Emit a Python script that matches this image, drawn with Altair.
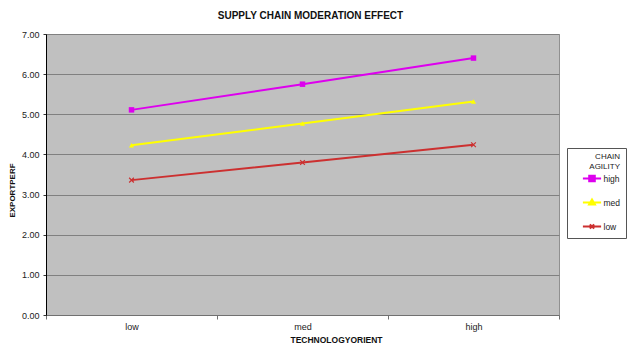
import altair as alt
import pandas as pd

# ---- data ----
x_levels = ["low", "med", "high"]
series_names = ["high", "med", "low"]
high_vals = [5.11, 5.75, 6.40]
med_vals = [4.23, 4.77, 5.32]
low_vals = [3.36, 3.80, 4.24]
y_ticks = [0, 1, 2, 3, 4, 5, 6, 7]
series_colors = ["#DD00EE", "#FFFF00", "#CC3030"]
line_widths = [2, 2, 1.2]
legend_title = ["CHAIN\u00a0\u00a0\u00a0", "AGILITY"]
legend_paths = [
    "M-1.3,0H1.3M-0.4,-0.4H0.4V0.4H-0.4ZM-0.2,-0.2H0.2V0.2H-0.2Z",
    "M-1.3,0H1.3M0,-0.42L0.42,0.3H-0.42ZM0,-0.15L0.18,0.16H-0.18Z",
    "M-1.3,0H1.3M-0.3,-0.3L0.3,0.3M-0.3,0.3L0.3,-0.3",
]
x_marker_path = "M-1,-1L1,1M-1,1L1,-1"

rows = []
for s, vals in zip(series_names, [high_vals, med_vals, low_vals]):
    for x, v in zip(x_levels, vals):
        rows.append({"TECHNOLOGYORIENT": x, "EXPORTPERF": v, "AGILITY": s})
df = pd.DataFrame(rows)

FONT = "Liberation Sans"
color_scale = alt.Scale(domain=series_names, range=series_colors)

x_enc = alt.X(
    "TECHNOLOGYORIENT:N",
    sort=x_levels,
    bandPosition=0.5,
    scale=alt.Scale(type="band", paddingInner=0, paddingOuter=0),
    axis=alt.Axis(
        title="TECHNOLOGYORIENT",
        tickBand="extent",
        labelAngle=0,
        grid=False,
        domainColor="#707070",
        tickColor="#707070",
        tickSize=4,
        labelPadding=3,
        labelFont=FONT,
        labelFontSize=9,
        labelColor="#222222",
        titleFont=FONT,
        titleFontSize=8.5,
        titleFontWeight="bold",
        titleColor="#111111",
        titleX=290,
        titleY=24.5,
        titleBaseline="middle",
    ),
)
y_enc = alt.Y(
    "EXPORTPERF:Q",
    scale=alt.Scale(domain=[0, 7], nice=False),
    axis=alt.Axis(
        title="EXPORTPERF",
        values=y_ticks,
        format=".2f",
        grid=True,
        gridColor="#808080",
        gridWidth=1,
        domainColor="#000000",
        tickColor="#333333",
        tickSize=3,
        labelPadding=4,
        labelFont=FONT,
        labelFontSize=9,
        labelColor="#222222",
        titleFont=FONT,
        titleFontSize=8,
        titleFontWeight="bold",
        titleColor="#111111",
        titleX=-34,
        titleY=156,
        titleBaseline="middle",
    ),
)

base = alt.Chart(df)

leg = alt.Legend(
    orient="none",
    legendX=521,
    legendY=114,
    padding=5,
    strokeColor="#555555",
    fillColor="#FFFFFF",
    symbolSize=196,
    symbolStrokeWidth=1.5,
    symbolOffset=12,
    symbolOpacity=1,
    labelOffset=3.5,
    labelFont=FONT,
    labelFontSize=8.5,
    labelColor="#222222",
    labelExpr="datum.label + '\u00a0\u00a0\u00a0'",
    titleFont=FONT,
    titleFontSize=8,
    titleFontWeight="normal",
    titleColor="#222222",
    titleAnchor="end",
    titleAlign="right",
    titleLineHeight=9.5,
    titlePadding=0,
    rowPadding=9,
)

legend_layer = base.mark_point(opacity=0, filled=False).encode(
    x=x_enc,
    y=y_enc,
    color=alt.Color("AGILITY:N", scale=color_scale, sort=series_names, title=legend_title, legend=leg),
    shape=alt.Shape(
        "AGILITY:N",
        scale=alt.Scale(domain=series_names, range=legend_paths),
        sort=series_names,
        title=legend_title,
        legend=leg,
    ),
)

lines = base.mark_line().encode(
    x=x_enc,
    y=y_enc,
    color=alt.Color("AGILITY:N", scale=color_scale, legend=None),
    strokeWidth=alt.StrokeWidth(
        "AGILITY:N", scale=alt.Scale(domain=series_names, range=line_widths), legend=None
    ),
)

pts_high = base.transform_filter(alt.datum.AGILITY == "high").mark_point(
    shape="square", filled=True, size=30, opacity=1
).encode(x=x_enc, y=y_enc, color=alt.Color("AGILITY:N", scale=color_scale, legend=None))

pts_med = base.transform_filter(alt.datum.AGILITY == "med").mark_point(
    shape="triangle-up", filled=True, size=26, opacity=1
).encode(x=x_enc, y=y_enc, color=alt.Color("AGILITY:N", scale=color_scale, legend=None))

pts_low = base.transform_filter(alt.datum.AGILITY == "low").mark_point(
    shape=x_marker_path, filled=False, size=22, strokeWidth=1.2, opacity=1
).encode(x=x_enc, y=y_enc, color=alt.Color("AGILITY:N", scale=color_scale, legend=None))

chart = (
    alt.layer(legend_layer, lines, pts_high, pts_med, pts_low)
    .properties(
        width=513,
        height=281,
        title=alt.TitleParams(
            text="SUPPLY CHAIN MODERATION EFFECT",
            font=FONT,
            fontSize=10,
            fontWeight="bold",
            color="#111111",
            anchor="middle",
            frame="group",
            dx=8,
            offset=9,
        ),
        autosize=alt.AutoSizeParams(type="none"),
        padding={"left": 38, "top": 26, "right": 71, "bottom": 29},
        background="white",
    )
    .configure_view(fill="#C0C0C0", stroke="#909090", strokeWidth=1)
)

chart.save("out.html", embed_options={"renderer": "svg", "actions": False})
